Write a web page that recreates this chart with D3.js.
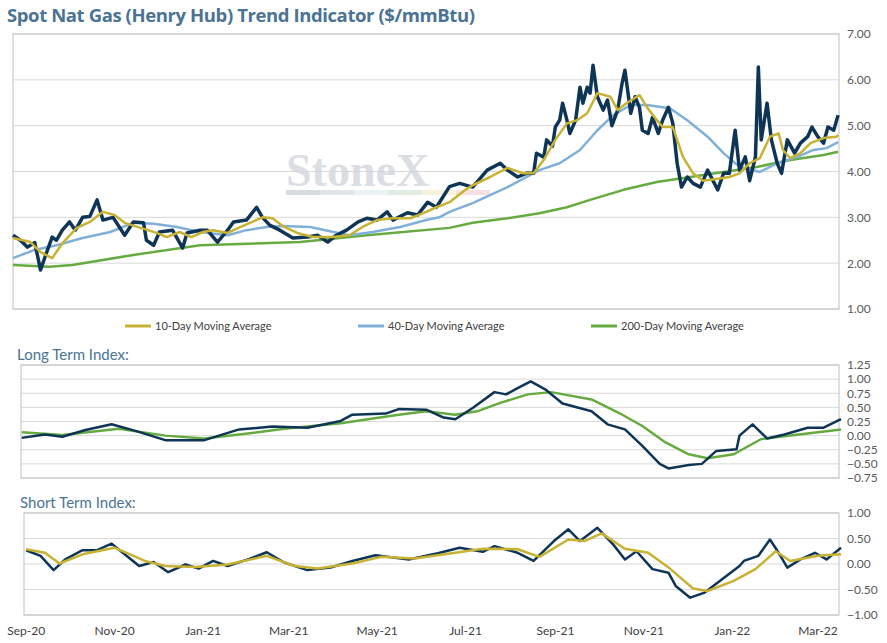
<!DOCTYPE html>
<html>
<head>
<meta charset="utf-8">
<script src="https://cdn.jsdelivr.net/npm/d3@7"></script>
<style>
  body { margin: 0; background: #fff; }
  svg { font-family: Lato, "Open Sans", sans-serif; }
</style>
</head>
<body>
<div id="chart"></div>
<script>
// days counted from 2020-08-26
const startDate = new Date(2020, 7, 26);

const spot = [[0,2.61],[5,2.50],[10,2.35],[15,2.45],[19,1.85],[22,2.13],[27,2.57],[30,2.50],[34,2.72],[39,2.90],[43,2.72],[48,3.00],[53,3.02],[58,3.38],[62,2.94],[69,3.00],[77,2.61],[83,2.90],[90,2.88],[92,2.50],[97,2.39],[101,2.68],[110,2.72],[117,2.33],[120,2.66],[129,2.72],[134,2.72],[141,2.46],[148,2.72],[152,2.90],[161,2.94],[168,3.22],[172,3.00],[177,2.83],[184,2.72],[193,2.55],[203,2.57],[210,2.61],[217,2.46],[223,2.61],[230,2.72],[238,2.90],[244,2.98],[251,2.94],[258,3.12],[262,2.94],[272,3.10],[279,3.05],[286,3.33],[292,3.22],[301,3.67],[308,3.74],[317,3.66],[327,4.03],[336,4.18],[341,4.03],[348,3.88],[354,3.96],[359,3.96],[361,4.40],[366,4.31],[368,4.69],[372,4.55],[374,4.97],[377,5.12],[379,5.49],[382,5.12],[384,4.83],[388,5.12],[391,5.84],[393,5.49],[396,5.84],[398,5.71],[400,6.32],[403,5.63],[407,5.34],[410,5.56],[413,5.00],[417,5.34],[420,5.92],[422,6.21],[426,5.27],[429,5.63],[432,5.40],[434,4.90],[438,4.83],[441,5.18],[445,4.83],[448,5.12],[452,5.40],[455,5.05],[458,4.18],[461,3.66],[465,3.88],[469,3.74],[474,3.66],[479,4.03],[486,3.60],[490,3.96],[494,3.96],[498,4.90],[501,4.03],[505,4.32],[508,3.80],[512,4.32],[514,6.28],[516,4.69],[520,5.49],[523,4.69],[527,4.18],[530,3.96],[534,4.69],[539,4.40],[543,4.62],[548,4.76],[551,4.97],[555,4.76],[559,4.62],[562,4.97],[566,4.90],[569,5.23]];

const ma10 = [[0,2.55],[12,2.46],[19,2.24],[27,2.11],[34,2.43],[44,2.77],[53,2.90],[62,3.12],[70,3.05],[77,2.88],[88,2.77],[99,2.66],[106,2.57],[115,2.68],[123,2.57],[131,2.68],[138,2.72],[148,2.66],[157,2.79],[165,2.90],[172,3.00],[179,2.98],[186,2.81],[196,2.66],[207,2.57],[221,2.57],[232,2.61],[241,2.79],[251,2.94],[262,2.98],[274,2.98],[283,3.09],[292,3.22],[301,3.33],[312,3.60],[317,3.70],[329,3.88],[341,4.08],[352,3.96],[359,3.96],[366,4.25],[374,4.69],[382,5.05],[389,5.12],[396,5.27],[403,5.71],[412,5.63],[417,5.34],[423,5.49],[432,5.67],[437,5.41],[444,5.12],[448,4.97],[455,4.97],[462,4.32],[469,3.96],[476,3.80],[486,3.84],[494,3.88],[501,3.96],[508,4.18],[515,4.29],[522,4.76],[528,4.83],[531,4.47],[536,4.29],[543,4.40],[550,4.62],[559,4.73],[568,4.76],[569,4.80]];

const ma40 = [[0,2.11],[14,2.28],[30,2.39],[48,2.55],[67,2.68],[83,2.88],[97,2.86],[113,2.79],[129,2.68],[148,2.61],[161,2.72],[175,2.79],[186,2.81],[205,2.79],[221,2.68],[232,2.61],[248,2.68],[267,2.79],[285,2.94],[294,3.00],[301,3.12],[317,3.31],[341,3.66],[363,4.03],[377,4.18],[391,4.47],[403,4.90],[414,5.23],[426,5.45],[437,5.45],[453,5.38],[465,5.12],[479,4.76],[490,4.40],[501,4.10],[515,3.99],[527,4.18],[541,4.32],[552,4.47],[561,4.51],[569,4.64]];

const ma200 = [[0,1.96],[25,1.92],[41,1.96],[83,2.18],[129,2.39],[198,2.46],[244,2.61],[301,2.77],[317,2.88],[341,2.98],[363,3.09],[382,3.22],[398,3.38],[421,3.60],[444,3.77],[467,3.88],[490,3.99],[513,4.10],[536,4.25],[559,4.36],[569,4.43]];

const longIdx = [[6,-0.04],[22,0.02],[34,-0.02],[50,0.10],[68,0.20],[85,0.08],[105,-0.08],[132,-0.08],[156,0.11],[179,0.16],[203,0.14],[226,0.26],[234,0.37],[257,0.39],[266,0.47],[285,0.46],[297,0.32],[305,0.29],[317,0.49],[332,0.77],[340,0.73],[348,0.84],[357,0.96],[367,0.82],[379,0.57],[399,0.43],[410,0.20],[422,0.11],[434,-0.18],[446,-0.50],[452,-0.58],[466,-0.52],[475,-0.50],[485,-0.27],[499,-0.24],[501,0.00],[510,0.20],[520,-0.05],[532,0.02],[548,0.14],[559,0.14],[571,0.29]];
const longAvg = [[6,0.06],[34,0.01],[73,0.12],[105,0.00],[132,-0.05],[156,0.02],[187,0.12],[226,0.22],[266,0.37],[285,0.43],[305,0.37],[320,0.43],[336,0.58],[355,0.73],[371,0.77],[399,0.64],[418,0.40],[434,0.17],[450,-0.12],[466,-0.33],[479,-0.40],[497,-0.33],[516,-0.06],[539,0.01],[571,0.11]];

const shortIdx = [[9,0.27],[19,0.16],[28,-0.12],[36,0.09],[48,0.27],[58,0.27],[68,0.40],[77,0.19],[87,-0.04],[97,0.04],[107,-0.16],[119,-0.01],[128,-0.09],[138,0.06],[148,-0.04],[163,0.10],[175,0.23],[187,0.03],[203,-0.12],[219,-0.07],[234,0.06],[250,0.17],[273,0.09],[293,0.21],[308,0.32],[324,0.24],[332,0.35],[348,0.22],[359,0.06],[373,0.45],[383,0.68],[391,0.45],[403,0.71],[414,0.38],[422,0.09],[430,0.25],[441,-0.10],[452,-0.17],[457,-0.43],[467,-0.66],[477,-0.56],[489,-0.30],[501,-0.04],[504,0.06],[514,0.16],[522,0.48],[528,0.22],[534,-0.07],[543,0.09],[553,0.22],[561,0.09],[571,0.32]];
const shortAvg = [[9,0.29],[22,0.22],[32,0.01],[48,0.19],[70,0.32],[91,0.06],[105,-0.04],[126,-0.06],[148,-0.01],[175,0.16],[194,-0.04],[210,-0.09],[234,0.01],[254,0.14],[277,0.11],[305,0.22],[324,0.30],[348,0.29],[363,0.14],[383,0.48],[394,0.45],[406,0.60],[422,0.30],[438,0.22],[453,-0.09],[469,-0.48],[479,-0.53],[497,-0.33],[512,-0.10],[526,0.25],[536,0.06],[555,0.16],[571,0.19]];

const priceTicks = [1, 2, 3, 4, 5, 6, 7];
const longTicks = [-0.75, -0.5, -0.25, 0, 0.25, 0.5, 0.75, 1, 1.25];
const shortTicks = [-1, -0.5, 0, 0.5, 1];
const legendLabels = ["10-Day Moving Average", "40-Day Moving Average", "200-Day Moving Average"];

const NAVY = "#0f3556", GOLD = "#c8b233", BLUE = "#7fb0da", GREEN = "#66ab40";
const W = 887, H = 643;
const day = d => d3.timeDay.offset(startDate, d);

const svg = d3.select("#chart").append("svg").attr("width", W).attr("height", H);

const x = d3.scaleTime().domain([day(0), day(571)]).range([13, 841]);

svg.append("text").attr("x", 7).attr("y", 22)
  .attr("font-size", 18.5).attr("font-weight", "bold").attr("fill", "#4b7393")
  .attr("font-family", "'Open Sans', sans-serif").attr("textLength", 468)
  .text("Spot Nat Gas (Henry Hub) Trend Indicator ($/mmBtu)");

function panel(top, bottom, left, domain, ticks, fmt) {
  const y = d3.scaleLinear().domain(domain).range([bottom, top]);
  const g = svg.append("g");
  g.selectAll("line.grid").data(ticks).join("line")
    .attr("x1", left).attr("x2", 839).attr("y1", d => y(d)).attr("y2", d => y(d))
    .attr("stroke", "#d9d9d9").attr("stroke-width", 1);
  g.append("rect").attr("x", left).attr("y", top).attr("width", 839 - left).attr("height", bottom - top)
    .attr("fill", "none").attr("stroke", "#bfbfbf");
  const ax = g.append("g").attr("transform", "translate(839,0)")
    .call(d3.axisRight(y).tickValues(ticks).tickFormat(fmt).tickSize(0).tickPadding(8));
  ax.select(".domain").remove();
  ax.selectAll("text").attr("font-size", 12).attr("fill", "#595959").attr("font-family", "Lato, sans-serif");
  return y;
}

function drawLine(y, data, color, w) {
  svg.append("path").datum(data)
    .attr("fill", "none").attr("stroke", color).attr("stroke-width", w)
    .attr("stroke-linejoin", "round")
    .attr("d", d3.line().x(d => x(day(d[0]))).y(d => y(d[1])));
}

// top panel
const yP = panel(34, 309, 13, [1, 7], priceTicks, d3.format(".2f"));

// watermark
const wm = svg.append("g").attr("opacity", 0.75);
wm.append("text").attr("x", 286).attr("y", 186).attr("font-family", "Liberation Serif, DejaVu Serif, serif")
  .attr("font-weight", "bold").attr("font-size", 46).attr("fill", "#cfd5db").text("StoneX");
["#c9cfd6", "#d6dde6", "#e3edf5", "#d8e6dc", "#f6eed2", "#f3d6d8"].forEach((c, i) => {
  wm.append("rect").attr("x", 286 + i * 34).attr("y", 190).attr("width", 34).attr("height", 5).attr("fill", c);
});

drawLine(yP, ma200, GREEN, 2.5);
drawLine(yP, ma40, BLUE, 2.5);
drawLine(yP, spot, NAVY, 3.5);
drawLine(yP, ma10, GOLD, 2.5);

// legend
[GOLD, BLUE, GREEN].forEach((c, i) => {
  const lx = 125 + i * 233;
  svg.append("line").attr("x1", lx).attr("x2", lx + 26).attr("y1", 326).attr("y2", 326)
    .attr("stroke", c).attr("stroke-width", 3);
  svg.append("text").attr("x", lx + 30).attr("y", 330).attr("font-size", 11).attr("fill", "#404040")
    .text(legendLabels[i]);
});

// long term
svg.append("text").attr("x", 17).attr("y", 360).attr("font-size", 15).attr("fill", "#4b7393").text("Long Term Index:");
const yL = panel(365, 478, 21, [-0.75, 1.25], longTicks, d3.format(".2f"));
drawLine(yL, longAvg, GREEN, 2.5);
drawLine(yL, longIdx, NAVY, 2.5);

// short term
svg.append("text").attr("x", 20).attr("y", 508).attr("font-size", 15).attr("fill", "#4b7393").text("Short Term Index:");
const yS = panel(513, 615, 24, [-1, 1], shortTicks, d3.format(".2f"));
drawLine(yS, shortIdx, NAVY, 2.5);
drawLine(yS, shortAvg, GOLD, 2.5);

// bottom date axis
const xa = svg.append("g").attr("transform", "translate(4,622)")
  .call(d3.axisBottom(x).ticks(d3.timeMonth.every(2)).tickFormat(d3.timeFormat("%b-%y")).tickSize(0).tickPadding(4));
xa.select(".domain").remove();
xa.selectAll("text").attr("font-size", 12).attr("fill", "#404040").attr("font-family", "Lato, sans-serif");
</script>
</body>
</html>
